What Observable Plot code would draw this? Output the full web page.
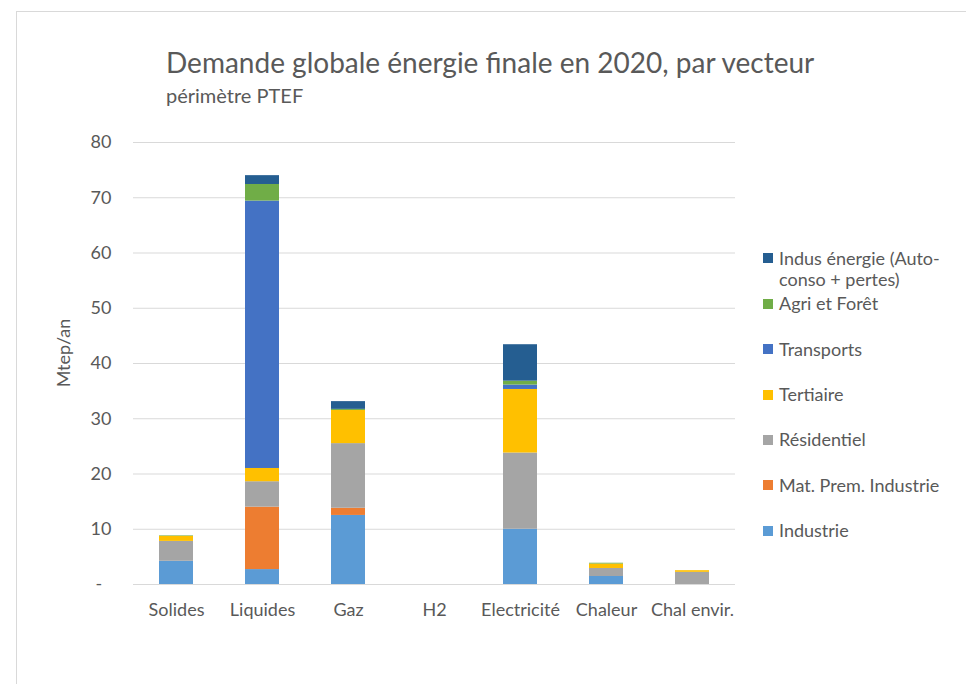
<!DOCTYPE html>
<html><head><meta charset="utf-8">
<script src="https://cdn.jsdelivr.net/npm/d3@7"></script>
<script src="https://cdn.jsdelivr.net/npm/@observablehq/plot@0.6"></script>
<style>
body{margin:0;background:#fff;font-family:Lato,"Open Sans",sans-serif;color:#595959}
#wrap{position:relative;width:966px;height:684px;overflow:hidden;background:#fff}
#frame{position:absolute;left:16px;top:11px;width:1100px;height:1100px;border:1.5px solid #d9d9d9;box-sizing:border-box}
#title{position:absolute;left:166px;top:46px;font-size:28px;line-height:32px;white-space:nowrap}
#subtitle{position:absolute;left:166px;top:83px;font-size:20px;line-height:24px;white-space:nowrap}
#ylabel{position:absolute;left:63px;top:353px;font-size:18px;white-space:nowrap;transform:translate(-50%,-50%) rotate(-90deg)}
#chart{position:absolute;left:0;top:0}
.leg{position:absolute;left:763px;font-size:18px;line-height:21.5px;white-space:nowrap}
.sw{position:absolute;left:0;width:10px;height:10px}
.lt{position:absolute;left:16px;top:0}
</style>
</head><body>
<div id="wrap">
  <div id="frame"></div>
  <div id="chart"></div>
  <div id="title">Demande globale énergie finale en 2020, par vecteur</div>
  <div id="subtitle">périmètre PTEF</div>
  <div id="ylabel">Mtep/an</div>
  <div id="legend"></div>
</div>
<script>
const categories = ["Solides","Liquides","Gaz","H2","Electricité","Chaleur","Chal envir."];
const seriesNames = ["Industrie","Mat. Prem. Industrie","Résidentiel","Tertiaire","Transports","Agri et Forêt","Indus énergie (Auto-conso + pertes)"];
const seriesColors = ["#5B9BD5","#ED7D31","#A5A5A5","#FFC000","#4472C4","#70AD47","#255E91"];
const industrie    = [4.2, 2.7, 12.5, 0, 10.0, 1.45, 0];
const matPrem      = [0, 11.3, 1.3, 0, 0, 0, 0];
const residentiel  = [3.6, 4.6, 11.7, 0, 13.8, 1.45, 2.2];
const tertiaire    = [0.9, 2.4, 6.0, 0, 11.5, 0.8, 0.3];
const transports   = [0, 48.4, 0, 0, 0.8, 0, 0];
const agri         = [0.1, 3.0, 0.2, 0, 0.7, 0.15, 0];
const indusEnergie = [0, 1.6, 1.4, 0, 6.6, 0, 0];
const yTicks = [0,10,20,30,40,50,60,70,80];

const seriesValues = [industrie, matPrem, residentiel, tertiaire, transports, agri, indusEnergie];
const rows = [];
seriesNames.forEach((s, i) => categories.forEach((c, j) => rows.push({cat: c, serie: s, value: seriesValues[i][j]})));

const chart = Plot.plot({
  width: 966, height: 684,
  marginTop: 142, marginBottom: 100, marginLeft: 133, marginRight: 231,
  style: {fontFamily: "Lato, sans-serif", fontSize: "18px", color: "#595959", background: "transparent", overflow: "visible"},
  x: {domain: categories, paddingInner: 0.6, paddingOuter: 0.3, label: null},
  y: {domain: [0, 80], label: null},
  color: {domain: seriesNames, range: seriesColors},
  marks: [
    Plot.gridY(yTicks, {stroke: "#d9d9d9", strokeOpacity: 1, strokeWidth: 1}),
    Plot.axisY(yTicks, {tickSize: 0, tickPadding: 22, fontSize: 18, label: null,
      tickFormat: d => d === 0 ? "-\u00A0\u00A0" : String(d)}),
    Plot.axisX({tickSize: 0, tickPadding: 19, fontSize: 18, label: null}),
    Plot.barY(rows, {x: "cat", y: "value", fill: "serie", order: seriesNames})
  ]
});
document.getElementById("chart").appendChild(chart);

// legend (top entry = last series)
const legend = document.getElementById("legend");
const order = seriesNames.map((n, i) => i).reverse();
order.forEach((i, k) => {
  const cy = 258.6 + k * 45.4;
  const item = document.createElement("div");
  item.className = "leg";
  item.style.top = (cy - 10.75) + "px";
  const sw = document.createElement("div");
  sw.className = "sw";
  sw.style.background = seriesColors[i];
  sw.style.top = "5.5px";
  const lt = document.createElement("div");
  lt.className = "lt";
  const parts = seriesNames[i].split(/(?<=Auto-)/);
  parts.forEach((p, pi) => {
    if (pi) lt.appendChild(document.createElement("br"));
    lt.appendChild(document.createTextNode(p));
  });
  item.appendChild(sw);
  item.appendChild(lt);
  legend.appendChild(item);
});
</script>
</body></html>
